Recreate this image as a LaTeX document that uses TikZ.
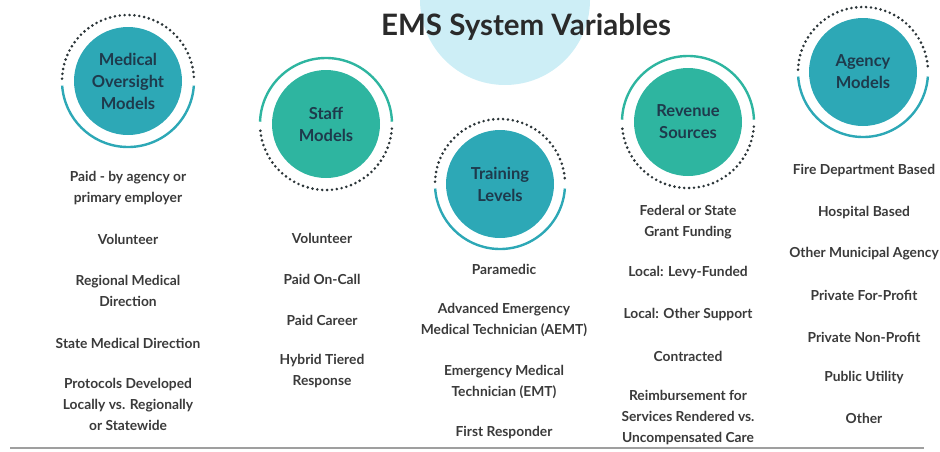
\documentclass[tikz,border=0pt]{standalone}
\usepackage{fontspec}
\setmainfont{Lato}
\definecolor{hubblue}{HTML}{2DA8B6}
\definecolor{hubgreen}{HTML}{2EB5A0}
\definecolor{hubtext}{HTML}{1E3A4C}
\definecolor{itemtext}{HTML}{3A3A3A}
\definecolor{dotcol}{HTML}{2B3538}
\definecolor{halo}{HTML}{CDEEF6}
\definecolor{titlecol}{HTML}{2A2A2A}
\tikzset{
  hub/.style={circle,minimum size=108pt,inner sep=0pt,align=center,text=hubtext,
    font=\bfseries\fontsize{16.5}{22}\selectfont},
  item/.style={align=center,text=itemtext,font=\bfseries\fontsize{13.8}{21}\selectfont},
  ring/.style={line width=2.4pt},
  dots/.style={draw=dotcol,line width=2.9pt,line cap=round,dash pattern=on 0pt off 4.9pt}
}
\begin{document}
\begin{tikzpicture}[x=1pt,y=-1pt]
\useasboundingbox (0,0) rectangle (940,451);
\fill[halo] (420,0) arc[start angle=180,end angle=0,radius=85];
\node[font=\bfseries\fontsize{29.5}{34}\selectfont,text=titlecol] (title) at (526,27) {EMS System Variables};

\node[hub,fill=hubblue] (med) at (128,81) {Medical\\Oversight\\Models};
\draw[dots] (med.center) ++(182:66) arc[start angle=182,end angle=358,radius=66];
\draw[ring,draw=hubblue] (med.center) ++(4:66) arc[start angle=4,end angle=176,radius=66];

\node[hub,fill=hubgreen] (staff) at (326,124) {Staff\\Models};
\draw[ring,draw=hubgreen] (staff.center) ++(182:66) arc[start angle=182,end angle=358,radius=66];
\draw[dots] (staff.center) ++(4:66) arc[start angle=4,end angle=176,radius=66];

\node[hub,fill=hubblue] (train) at (500,184) {Training\\Levels};
\draw[dots] (train.center) ++(182:65) arc[start angle=182,end angle=358,radius=65];
\draw[ring,draw=hubblue] (train.center) ++(4:65) arc[start angle=4,end angle=176,radius=65];

\node[hub,fill=hubgreen] (rev) at (688,122) {Revenue\\Sources};
\draw[ring,draw=hubgreen] (rev.center) ++(182:66) arc[start angle=182,end angle=358,radius=66];
\draw[dots] (rev.center) ++(4:66) arc[start angle=4,end angle=176,radius=66];

\node[hub,fill=hubblue] (agency) at (863,72) {Agency\\Models};
\draw[dots] (agency.center) ++(182:65) arc[start angle=182,end angle=358,radius=65];
\draw[ring,draw=hubblue] (agency.center) ++(4:65) arc[start angle=4,end angle=176,radius=65];

\node[item] (med1) at (128,188) {Paid - by agency or\\primary employer};
\node[item] (med2) at (128,239) {Volunteer};
\node[item] (med3) at (128,291) {Regional Medical\\Direction};
\node[item] (med4) at (128,343) {State Medical Direction};
\node[item] (med5) at (128,404) {Protocols Developed\\Locally vs. Regionally\\or Statewide};

\node[item] (staff1) at (322,238) {Volunteer};
\node[item] (staff2) at (322,279) {Paid On-Call};
\node[item] (staff3) at (322,320) {Paid Career};
\node[item] (staff4) at (322,371) {Hybrid Tiered\\Response};

\node[item] (train1) at (504,269) {Paramedic};
\node[item] (train2) at (504,320) {Advanced Emergency\\Medical Technician (AEMT)};
\node[item] (train3) at (504,382) {Emergency Medical\\Technician (EMT)};
\node[item] (train4) at (504,433) {First Responder};

\node[item] (rev1) at (688,222) {Federal or State\\Grant Funding};
\node[item] (rev2) at (688,273) {Local: Levy-Funded};
\node[item] (rev3) at (688,315) {Local: Other Support};
\node[item] (rev4) at (688,356) {Contracted};
\node[item] (rev5) at (688,418) {Reimbursement for\\Services Rendered vs.\\Uncompensated Care};

\node[item] (agency1) at (864,171) {Fire Department Based};
\node[item] (agency2) at (864,213) {Hospital Based};
\node[item] (agency3) at (864,254) {Other Municipal Agency};
\node[item] (agency4) at (864,295) {Private For-Profit};
\node[item] (agency5) at (864,337) {Private Non-Profit};
\node[item] (agency6) at (864,378) {Public Utility};
\node[item] (agency7) at (864,418) {Other};

\coordinate (rule0) at (10,448);
\coordinate (rule1) at (924,448);
\draw[gray!75,line width=1.2pt] (rule0) -- (rule1);
\end{tikzpicture}
\end{document}
